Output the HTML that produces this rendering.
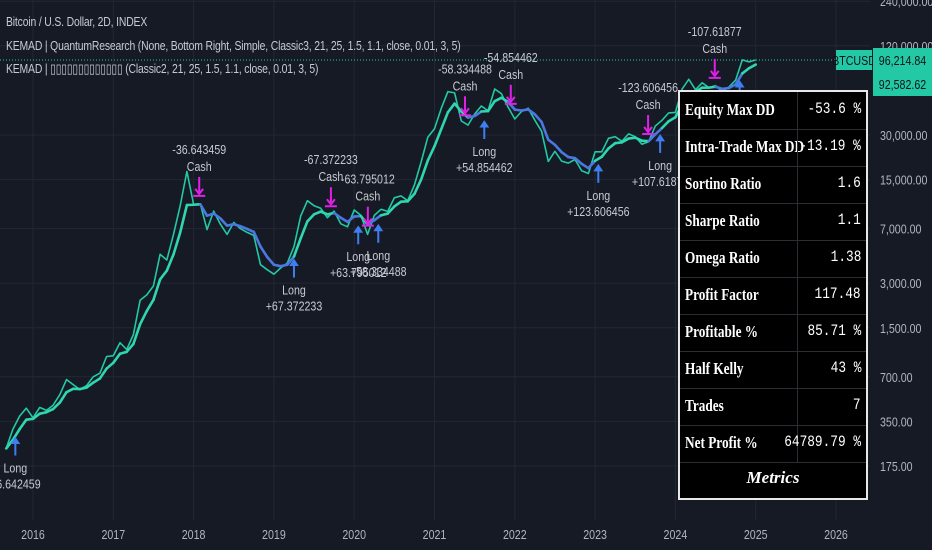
<!DOCTYPE html>
<html><head><meta charset="utf-8">
<style>
body{margin:0;background:#161a25;width:932px;height:550px;overflow:hidden;font-family:"Liberation Sans","Noto Sans CJK SC",sans-serif}
#wrap{position:relative;width:932px;height:550px}
svg{position:absolute;left:0;top:0}
.hdr{position:absolute;left:6px;color:#c8cad2;font-size:13px;letter-spacing:-0.2px;white-space:nowrap;transform:scaleX(0.8);transform-origin:left top}
#tbl{position:absolute;left:678px;top:90px;width:186px;height:406px;background:#000;border:2px solid #e8e8e8;font-family:"Liberation Serif",serif;font-weight:bold;color:#fff;font-size:17px}
.row{position:absolute;left:0;width:186px;height:37px;border-bottom:1px solid #2a2d33}
.row .k{position:absolute;left:5px;top:8px;white-space:nowrap;transform:scaleX(0.78);transform-origin:left top}
.row .v{position:absolute;right:5px;top:8px;white-space:nowrap;font-family:"Liberation Mono",monospace;font-weight:normal;font-size:16px;transform:scaleX(0.8);transform-origin:right top}
.row .d{position:absolute;left:117px;top:0;width:1px;height:37px;background:#2a2d33}
.ft{position:absolute;left:0;width:186px;text-align:center;font-style:italic;font-size:17px;top:376px}
</style></head><body>
<div id="wrap">
<svg id="chart" width="932" height="550"></svg>
<div class="hdr" style="top:14px">Bitcoin / U.S. Dollar, 2D, INDEX</div>
<div class="hdr" style="top:38px">KEMAD | QuantumResearch (None, Bottom Right, Simple, Classic3, 21, 25, 1.5, 1.1, close, 0.01, 3, 5)</div>
<div class="hdr" style="top:61px">KEMAD | ▯▯▯▯▯▯▯▯▯▯▯▯▯ (Classic2, 21, 25, 1.5, 1.1, close, 0.01, 3, 5)</div>
<div id="tbl">
<div class="row" style="top:0"><span class="k">Equity Max DD</span><span class="d"></span><span class="v">-53.6 %</span></div>
<div class="row" style="top:37px"><span class="k">Intra-Trade Max DD</span><span class="d"></span><span class="v">-13.19 %</span></div>
<div class="row" style="top:74px"><span class="k">Sortino Ratio</span><span class="d"></span><span class="v">1.6</span></div>
<div class="row" style="top:111px"><span class="k">Sharpe Ratio</span><span class="d"></span><span class="v">1.1</span></div>
<div class="row" style="top:148px"><span class="k">Omega Ratio</span><span class="d"></span><span class="v">1.38</span></div>
<div class="row" style="top:185px"><span class="k">Profit Factor</span><span class="d"></span><span class="v">117.48</span></div>
<div class="row" style="top:222px"><span class="k">Profitable %</span><span class="d"></span><span class="v">85.71 %</span></div>
<div class="row" style="top:259px"><span class="k">Half Kelly</span><span class="d"></span><span class="v">43 %</span></div>
<div class="row" style="top:296px"><span class="k">Trades</span><span class="d"></span><span class="v">7</span></div>
<div class="row" style="top:333px"><span class="k">Net Profit %</span><span class="d"></span><span class="v">64789.79 %</span></div>
<div class="ft">Metrics</div>
</div>
</div>
<script>
const prices=[230,310,380,430,370,435,415,450,530,670,620,575,610,700,740,960,970,1190,1070,1350,2300,2500,2870,4700,4300,6400,10000,17000,10200,10300,6900,9200,7500,6400,7700,7000,6600,6300,4000,3700,3450,3800,4100,5300,8500,10800,10000,9600,8300,9200,7550,7200,9350,8600,6400,8600,9450,9150,11300,11650,10800,13800,19700,29000,33100,45200,58900,57700,37300,35000,41500,47100,43800,61300,57000,46300,38500,43200,45500,37700,31800,19900,23300,20000,19400,20500,17200,16500,23100,23100,28500,29200,27200,30500,29200,26000,27000,34500,37700,42300,42600,61200,71300,60700,67500,62700,64600,59000,63300,70300,96400,93400,96200];
const startYear=2015+8/12;
const yTicks=[240000,120000,30000,15000,7000,3000,1500,700,350,175];
const yTickLabels=["240,000.00","120,000.00","30,000.00","15,000.00","7,000.00","3,000.00","1,500.00","700.00","350.00","175.00"];
const xTicks=[2016,2017,2018,2019,2020,2021,2022,2023,2024,2025,2026];
const cashStart=[2018.07,2019.71,2020.17,2021.38,2021.95,2023.66,2024.49];
const cashEnd=[2019.25,2020.05,2020.3,2021.62,2023.04,2023.81,2024.8];
const longDates=[2015.78,2019.25,2020.05,2020.3,2021.62,2023.04,2023.81,2024.8];
const longLabels=["+6.642459","+67.372233","+63.795012","+58.334488","+54.854462","+123.606456","+107.61877","+95.96444"];
const shortDates=[2018.07,2019.71,2020.17,2021.38,2021.95,2023.66,2024.49];
const shortLabels=["-36.643459","-67.372233","-63.795012","-58.334488","-54.854462","-123.606456","-107.61877"];
const lastPrice=96214.84, emaLast=92582.62;

const NS="http://www.w3.org/2000/svg";
const svg=document.getElementById('chart');
const X=t=>33+(t-2016)*80.3;
const Y=p=>466-44.6*Math.log2(p/175);
const tOf=i=>startYear+i/12;
function mk(tag,attrs,parent){const e=document.createElementNS(NS,tag);for(const k in attrs)e.setAttribute(k,attrs[k]);(parent||svg).appendChild(e);return e;}
function priceAt(t){let f=(t-startYear)*12;let i=Math.max(0,Math.min(prices.length-2,Math.floor(f)));let r=f-i;return Math.exp(Math.log(prices[i])*(1-r)+Math.log(prices[i+1])*r);}
function txt(x,y,s,anchor,size,fill,parent){const t=mk('text',{transform:`translate(${x},${y}) scale(0.82,1)`,fill:fill||'#c8cad2','font-size':size||13,'text-anchor':anchor||'middle'},parent);t.textContent=s;return t;}
xTicks.forEach((t,i)=>{const g=mk('line',{x1:X(t),x2:X(t),y1:0,y2:520,stroke:'#232733','stroke-width':1});

const tx=txt(X(t),539,String(t),'middle',13,'#b2b5be');
});
yTicks.forEach((p,i)=>{const g=mk('line',{x1:0,x2:870,y1:Y(p),y2:Y(p),stroke:'#232733','stroke-width':1});

const tx=txt(880,Y(p)+5,yTickLabels[i],'start',13,'#b2b5be');
});
let d=prices.map((p,i)=>(i?'L':'M')+X(tOf(i)).toFixed(1)+' '+Y(p).toFixed(1)).join(' ');
const pl=mk('path',{d:d,fill:'none',stroke:'#22c9a4','stroke-width':1.6,'stroke-linejoin':'round'});

const ema=[];prices.forEach((p,i)=>{ema.push(i?Math.exp(0.45*Math.log(p)+0.55*Math.log(ema[i-1])):p);});
const inCash=t=>cashStart.some((s,k)=>t>=s&&t<cashEnd[k]);
for(let i=1;i<ema.length;i++){const tm=(tOf(i-1)+tOf(i))/2;
const s=mk('line',{x1:X(tOf(i-1)),y1:Y(ema[i-1]),x2:X(tOf(i)),y2:Y(ema[i]),stroke:inCash(tm)?'#4a78e0':'#2fd6b0','stroke-width':2.6,'stroke-linecap':'round'});
}
const lp=mk('line',{x1:0,x2:835,y1:Y(lastPrice),y2:Y(lastPrice),stroke:'#22c9a4','stroke-width':1,'stroke-dasharray':'1 2'});

function lbl(x,y,s,name){const t=txt(x,y,s,'middle',13);}
shortDates.forEach((t,i)=>{const x=X(t),y=Y(priceAt(t));
const g=mk('g',{});
mk('line',{x1:x,x2:x,y1:y-27,y2:y-12,stroke:'#e020e8','stroke-width':2},g);
mk('path',{d:`M${x-4} ${y-15} L${x} ${y-10} L${x+4} ${y-15}`,fill:'none',stroke:'#e020e8','stroke-width':2},g);
mk('line',{x1:x-6,x2:x+6,y1:y-8,y2:y-8,stroke:'#e020e8','stroke-width':2},g);
lbl(x,y-50,shortLabels[i],'cash-value-label');lbl(x,y-33,'Cash','cash-label');});
longDates.forEach((t,i)=>{const x=X(t),y=Y(priceAt(t));
const g=mk('g',{});
mk('line',{x1:x,x2:x,y1:y+14,y2:y+31,stroke:'#3f7ef0','stroke-width':2},g);
mk('path',{d:`M${x-4} ${y+19} L${x} ${y+13} L${x+4} ${y+19}Z`,fill:'#3f7ef0',stroke:'#3f7ef0'},g);
lbl(x,y+48,'Long','long-label');lbl(x,y+64,longLabels[i],'long-value-label');});
function tag(x,y,w,h,s,name){const g=mk('g',{});
mk('rect',{x:x,y:y,width:w,height:h,fill:'#22c9a4'},g);txt(x+w/2,y+h/2+5,s,'middle',13,'#10131a',g);}
tag(836,50,36,20,'BTCUSD','symbol-tag');
tag(873,48,59,24,lastPrice.toLocaleString('en-US',{minimumFractionDigits:2}),'last-price-tag');
tag(873,72,59,24,emaLast.toLocaleString('en-US',{minimumFractionDigits:2}),'kemad-value-tag');
</script>
</body></html>
